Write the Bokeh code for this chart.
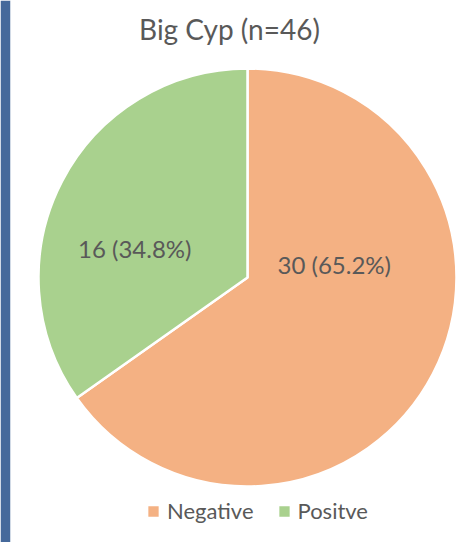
import math
from bokeh.plotting import figure
from bokeh.models import Range1d, ColumnDataSource, Legend, LegendItem, Label
from bokeh.embed import file_html
from bokeh.resources import INLINE
from bokeh.core.properties import value

# ---- data ----
title_text = "Big Cyp (n=46)"
categories = ["Negative", "Positve"]
counts = [30, 16]
colors = ["#F4B183", "#A9D18E"]

# ---- layout ----
W, H = 466, 542
BORDER_L = 10
FW, FH = W - BORDER_L, H
CX, CY, R = 237, 265, 209
FONT = "Lato"
TXT = "#595959"
label_r = 0.5
label_dx = [-6, -20]
label_dy = [61, -19]

total = sum(counts)
fracs = [c / total for c in counts]
cum = [0.0]
for f in fracs:
    cum.append(cum[-1] + f)
starts = [math.pi / 2 - 2 * math.pi * cum[i + 1] for i in range(len(counts))]
ends = [math.pi / 2 - 2 * math.pi * cum[i] for i in range(len(counts))]
mids = [(s + e) / 2 for s, e in zip(starts, ends)]
texts = [f"{c} ({f * 100:.1f}%)" for c, f in zip(counts, fracs)]
lx = [CX + label_r * R * math.cos(m) + dx for m, dx in zip(mids, label_dx)]
ly = [CY + label_r * R * math.sin(m) + dy for m, dy in zip(mids, label_dy)]

src = ColumnDataSource(dict(
    cat=categories, start=starts, end=ends, color=colors,
    lx=lx, ly=ly, text=texts,
    x=[CX] * len(counts), y=[CY] * len(counts),
))

p = figure(width=W, height=H, output_backend="svg", toolbar_location=None,
           x_range=Range1d(0, FW), y_range=Range1d(0, FH),
           x_axis_location=None, y_axis_location=None,
           min_border_left=BORDER_L, min_border_right=0,
           min_border_top=0, min_border_bottom=0)
p.border_fill_color = "#45699B"
p.background_fill_color = "white"
p.outline_line_color = None
p.grid.visible = False

r = p.wedge(x="x", y="y", radius=R, start_angle="start", end_angle="end",
            fill_color="color", line_color="white", line_width=2.5, source=src)

p.text(x="lx", y="ly", text="text", source=src, text_align="center",
       text_baseline="middle", text_font=value(FONT),
       text_font_size="24px", text_color=TXT)

title = Label(x=219, y=514, text=title_text, text_align="center",
              text_baseline="middle", text_font=FONT,
              text_font_size="28px", text_color=TXT)
p.add_layout(title)

items = [LegendItem(label=categories[i], renderers=[r], index=i)
         for i in range(len(categories))]
legend = Legend(items=items, orientation="horizontal",
                location=(135, 18), padding=0, margin=0,
                glyph_width=16, glyph_height=16, label_standoff=6,
                spacing=22, label_height=20,
                label_text_font=FONT, label_text_font_size="22px",
                label_text_color=TXT, border_line_color=None,
                background_fill_alpha=0)
p.add_layout(legend, "center")

open("out.html", "w").write(file_html(p, INLINE))
